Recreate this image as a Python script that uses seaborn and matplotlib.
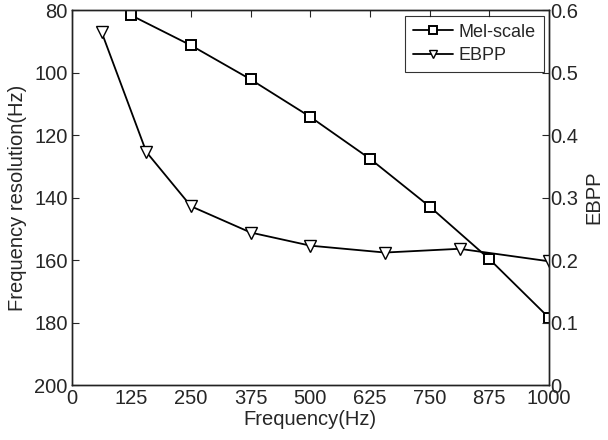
import numpy as np
import pandas as pd
import matplotlib
matplotlib.use("Agg")
import matplotlib.pyplot as plt
import seaborn as sns

sns.set_style("white")
plt.rcParams['font.family'] = ['Liberation Sans', 'DejaVu Sans']

# Mel-scale frequency resolution (left axis, Hz)
mel_freq = [125, 250, 375, 500, 625, 750, 875, 1000]
mel_res = [81.7, 91.3, 102.2, 114.2, 127.6, 142.9, 159.7, 178.5]

# EBPP (right axis)
ebpp_freq = [62.5, 156.25, 250, 375, 500, 656.25, 812.5, 1000]
ebpp_val = [0.565, 0.373, 0.286, 0.244, 0.223, 0.212, 0.218, 0.198]

xticks = [0, 125, 250, 375, 500, 625, 750, 875, 1000]

fig = plt.figure(figsize=(6.08, 4.40), dpi=100)
ax = fig.add_axes([0.118, 0.125, 0.785, 0.852])
ax2 = ax.twinx()

mel = pd.DataFrame({'f': mel_freq, 'r': mel_res})
eb = pd.DataFrame({'f': ebpp_freq, 'e': ebpp_val})

sns.lineplot(data=mel, x='f', y='r', ax=ax, color='black', lw=1.3,
             marker='s', markersize=7, markerfacecolor='white',
             markeredgecolor='black', markeredgewidth=1.4, label='Mel-scale',
             legend=False)
sns.lineplot(data=eb, x='f', y='e', ax=ax2, color='black', lw=1.3,
             marker='v', markersize=8, markerfacecolor='white',
             markeredgecolor='black', markeredgewidth=1.0, label='EBPP',
             legend=False)

ax.set_xlim(0, 1000)
ax.set_xticks(xticks)
ax.set_ylim(200, 80)
ax.set_yticks(range(80, 201, 20))
ax2.set_ylim(0, 0.6)
ax2.set_yticks([0, 0.1, 0.2, 0.3, 0.4, 0.5, 0.6])
ax2.set_yticklabels(['0', '0.1', '0.2', '0.3', '0.4', '0.5', '0.6'])

ax.set_xlabel('Frequency(Hz)', fontsize=14.5, labelpad=1)
ax.set_ylabel('Frequency resolution(Hz)', fontsize=14.5, labelpad=5)
ax2.set_ylabel('EBPP', fontsize=14.5, labelpad=4)

for a in (ax, ax2):
    for s in a.spines.values():
        s.set_color('#222222')
        s.set_linewidth(1.0)
ax.tick_params(axis='x', direction='in', top=True, length=5, labelsize=14.5, pad=3)
ax.tick_params(axis='y', direction='in', left=True, right=False, length=5, labelsize=14.5, pad=3)
ax2.tick_params(axis='y', direction='in', right=True, length=5, labelsize=14.5, pad=1)

h1, l1 = ax.get_legend_handles_labels()
h2, l2 = ax2.get_legend_handles_labels()
leg = ax2.legend(h1 + h2, l1 + l2, loc='upper right', fontsize=13,
                 frameon=True, fancybox=False, edgecolor='black',
                 borderaxespad=0.3, handlelength=2.2, borderpad=0.45,
                 labelspacing=0.35, handletextpad=0.3, markerscale=0.75)
leg.get_frame().set_linewidth(0.8)

fig.savefig('out.png', dpi=100)
